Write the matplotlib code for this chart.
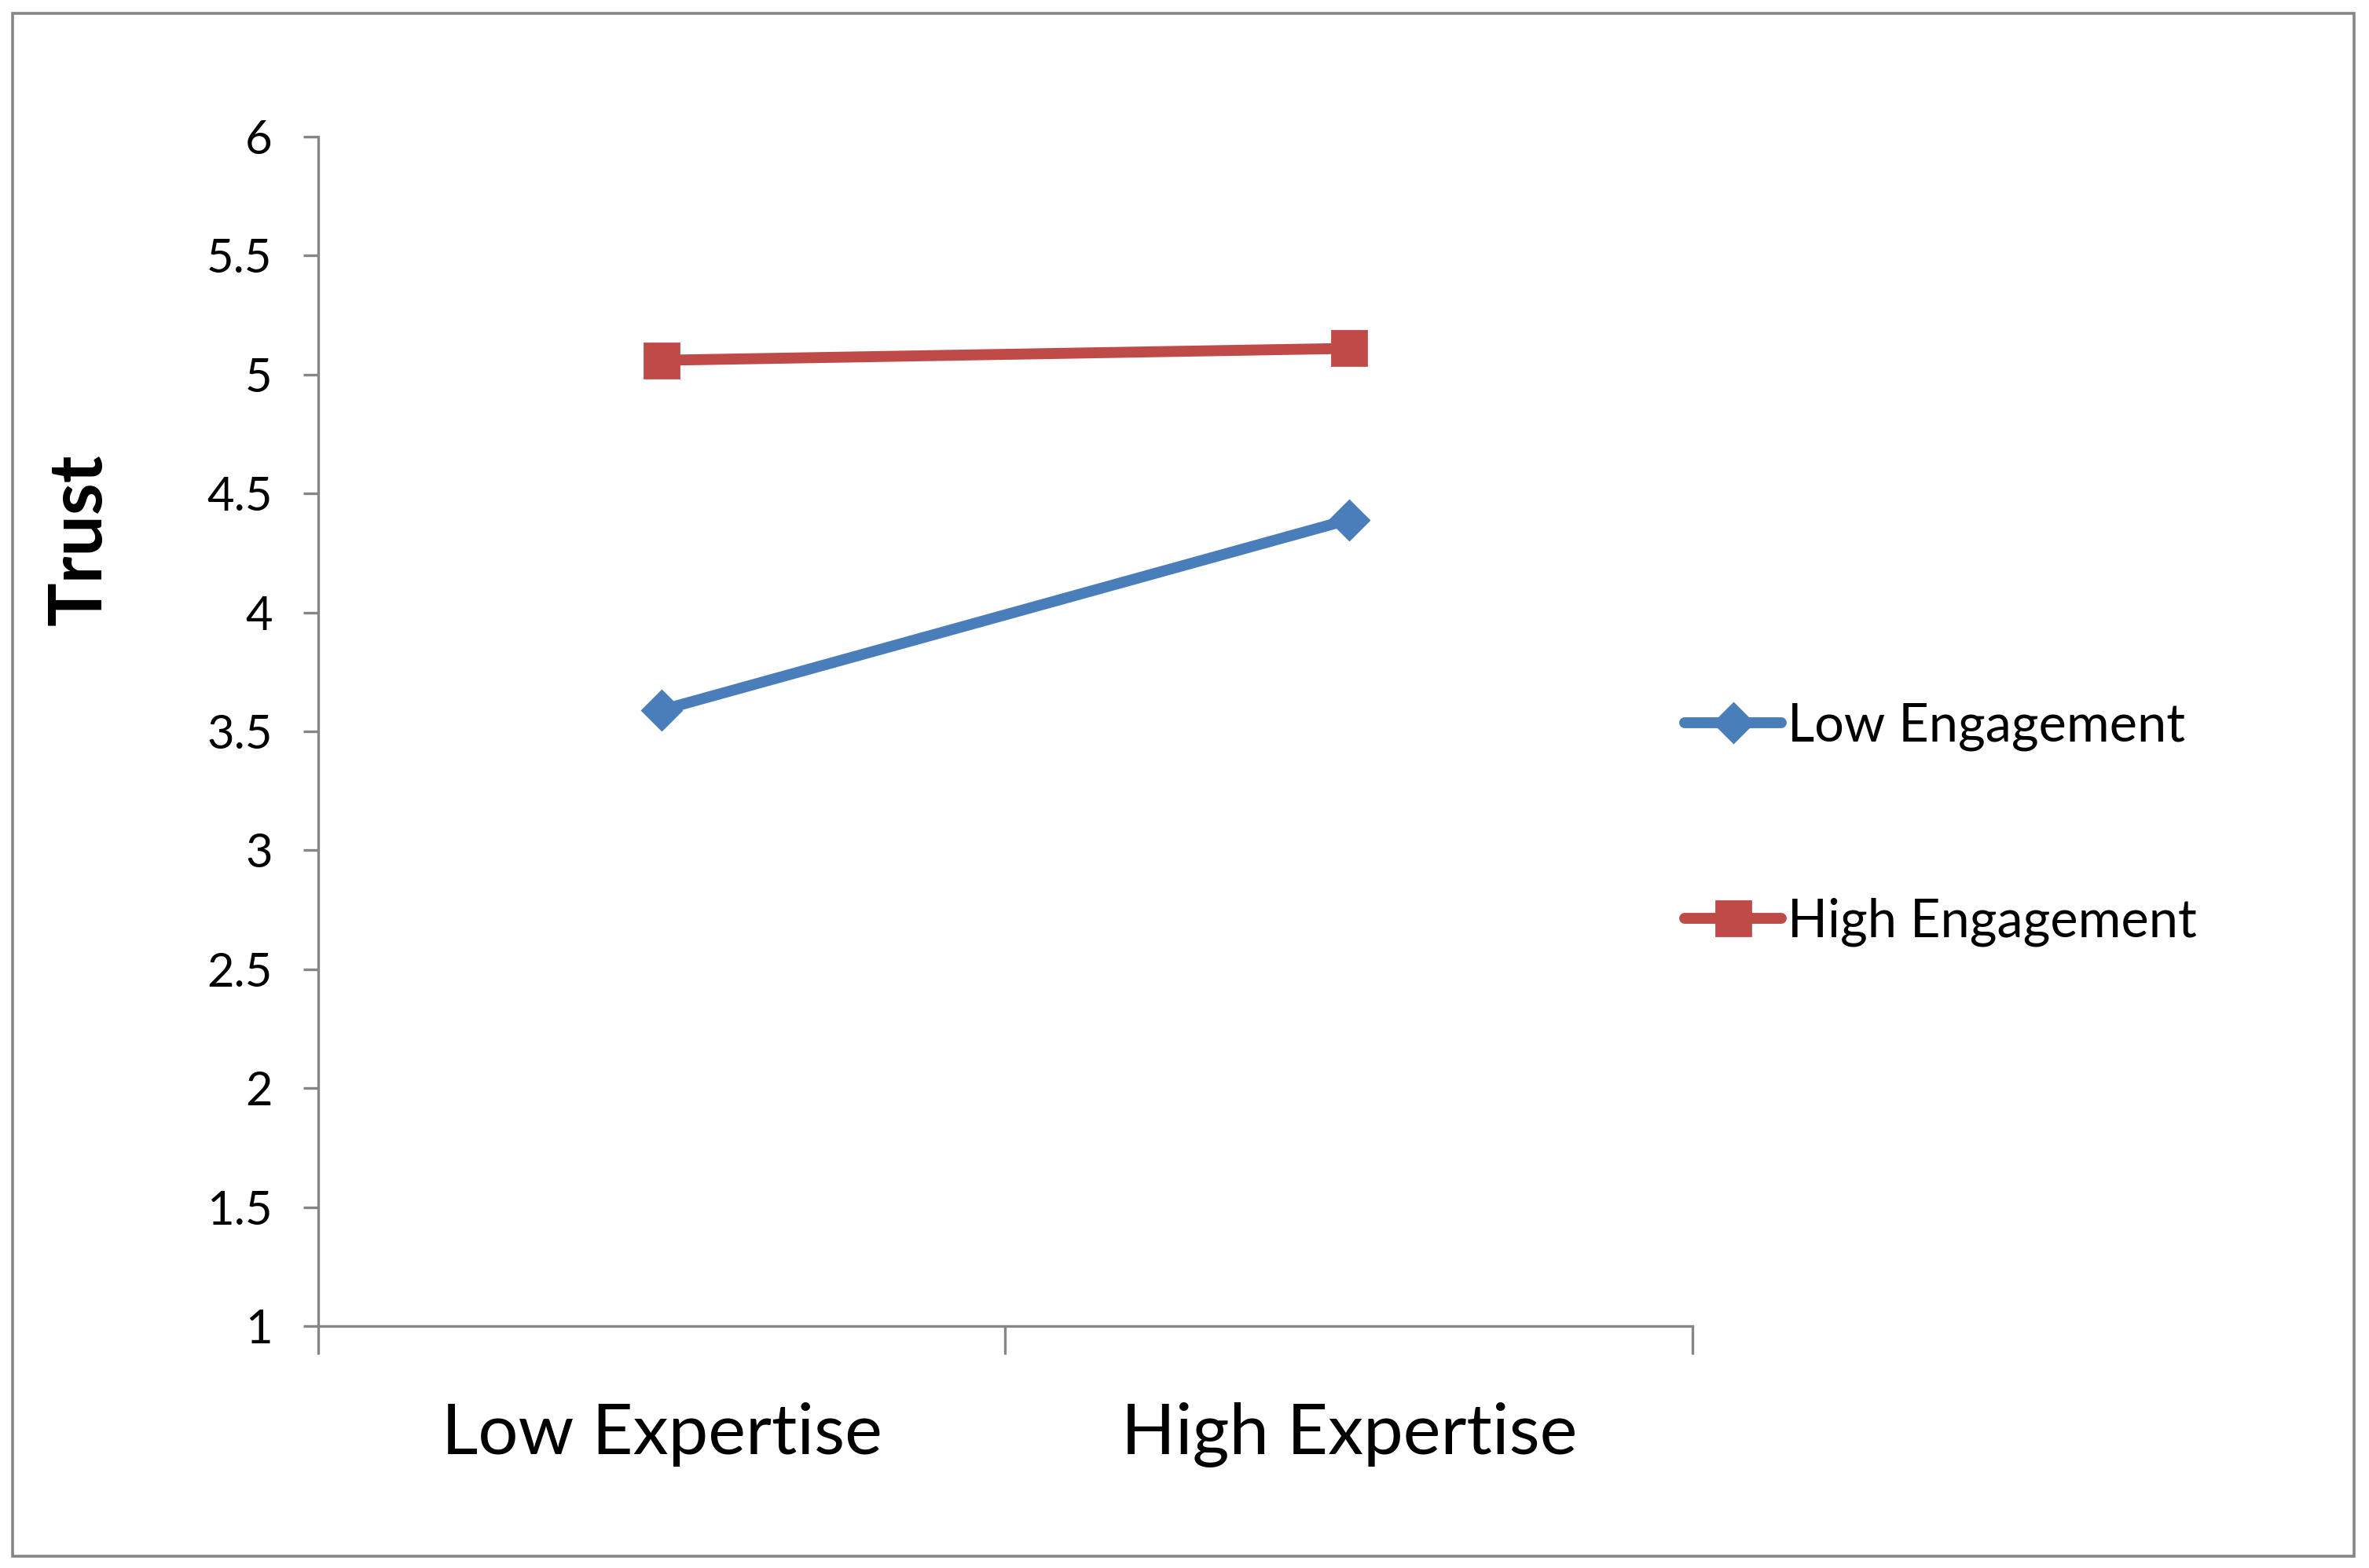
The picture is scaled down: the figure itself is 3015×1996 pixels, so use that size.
import numpy as np
import matplotlib.pyplot as plt
from matplotlib.patches import Rectangle

### Dados ###
categorias = ['Low Expertise', 'High Expertise']
low_engagement = [3.59, 4.39]
high_engagement = [5.06, 5.11]
yticks = [1, 1.5, 2, 2.5, 3, 3.5, 4, 4.5, 5, 5.5, 6]

plt.rcParams['font.family'] = ['Lato', 'DejaVu Sans']

cinza = '#868686'
azul = '#4A7EBB'
vermelho = '#BE4B48'

### Figura ###
fig = plt.figure(figsize=(15.075, 9.98), dpi=200)
ax = fig.add_axes([405 / 3015, 1 - 1688 / 1996, (2154 - 405) / 3015, (1688 - 174) / 1996])

x = np.arange(len(categorias))
ax.plot(x, low_engagement, color=azul, lw=5, marker='D', ms=12.5,
        solid_capstyle='round', label='Low Engagement')
ax.plot(x, high_engagement, color=vermelho, lw=5, marker='s', ms=16,
        solid_capstyle='round', label='High Engagement')

ax.set_xlim(-0.5, 1.5)
ax.set_ylim(1, 6)
ax.set_yticks(yticks)
ax.set_yticklabels(['%g' % v for v in yticks])
ax.set_xticks(x)
ax.set_xticklabels(categorias, fontsize=32.5)
ax.set_xticks([-0.5, 0.5, 1.5], minor=True)

ax.tick_params(axis='x', which='major', length=0, pad=35)
ax.tick_params(axis='x', which='minor', length=13, width=1.2, color=cinza)
ax.tick_params(axis='y', which='major', length=7, width=1.2, color=cinza,
               labelsize=21.5, pad=14)

for lado in ['top', 'right']:
    ax.spines[lado].set_visible(False)
for lado in ['left', 'bottom']:
    ax.spines[lado].set_color(cinza)
    ax.spines[lado].set_linewidth(1.2)

fig.text(102 / 3015, 1 - 687 / 1996, 'Trust', rotation=90, fontsize=33.5,
         fontweight='bold', ha='center', va='center')

### Legenda ###
leg = fig.legend(loc='upper left', bbox_to_anchor=(2144 / 3015, 1 - 893 / 1996),
                 frameon=False, fontsize=24, handlelength=1.85,
                 handletextpad=0.12, labelspacing=2.8, numpoints=1,
                 borderaxespad=0, borderpad=0)

### Borda externa ###
fig.patches.append(Rectangle((16 / 3015, 1 - 1981 / 1996), (2996 - 16) / 3015,
                             (1981 - 17) / 1996, transform=fig.transFigure,
                             fill=False, edgecolor=cinza, lw=1.3))

fig.savefig('out.png', dpi=200)
